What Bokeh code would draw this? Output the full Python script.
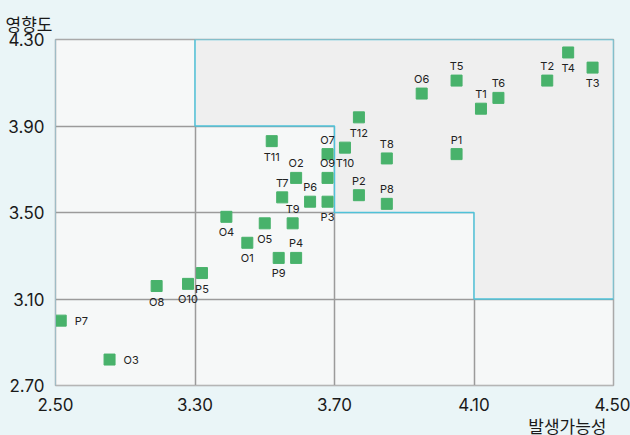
import numpy as np
from bokeh.plotting import figure
from bokeh.models import ColumnDataSource, LabelSet, Title, FixedTicker, CustomJSTickFormatter
from bokeh.embed import file_html
from bokeh.resources import INLINE
from bokeh.core.properties import value

# ---- data ----
names = ["T11", "O7", "T10", "O2", "T7", "P6", "P3", "O9", "T9", "O4", "O5", "O1",
         "P4", "P9", "T12", "T8", "P1", "O6", "T5", "T1", "T6", "T2", "T4", "T3",
         "P2", "P8", "P5", "O10", "O8", "P7", "O3"]
likelihood = [3.52, 3.68, 3.73, 3.59, 3.55, 3.63, 3.68, 3.68, 3.58, 3.39, 3.50, 3.45,
              3.59, 3.54, 3.77, 3.85, 4.05, 3.95, 4.05, 4.12, 4.17, 4.31, 4.37, 4.44,
              3.77, 3.85, 3.32, 3.26, 3.08, 2.53, 2.81]
impact = [3.83, 3.77, 3.80, 3.66, 3.57, 3.55, 3.55, 3.66, 3.45, 3.48, 3.45, 3.36,
          3.29, 3.29, 3.94, 3.75, 3.77, 4.05, 4.11, 3.98, 4.03, 4.11, 4.24, 4.17,
          3.58, 3.54, 3.22, 3.17, 3.16, 3.00, 2.82]
label_side = ["below", "above", "below", "above", "above", "above", "below", "above",
              "above", "below", "below", "below", "above", "below", "below", "above",
              "above", "above", "above", "above", "above", "above", "below", "below",
              "above", "above", "below", "below", "below", "right", "right"]

x_ticks = [2.5, 3.3, 3.7, 4.1, 4.5]
y_ticks = [2.7, 3.1, 3.5, 3.9, 4.3]
x_break = 3.3          # axis segment 2.50-3.30 is drawn at half scale
zone_x = [3.3, 4.5, 4.5, 4.1, 4.1, 3.7, 3.7, 3.3]
zone_y = [4.3, 4.3, 3.1, 3.1, 3.5, 3.5, 3.9, 3.9]
y_title = "영향도"
x_title = "발생가능성"


def xmap(v):
    v = np.asarray(v, dtype=float)
    return np.round(np.where(v < x_break, x_break - (x_break - v) / 2.0, v), 6)


offsets = {"above": (0, 14.5, "center"), "below": (0, -15.5, "center"), "right": (14, -0.5, "left")}

src = ColumnDataSource(dict(
    x=xmap(likelihood), y=impact, name=names,
    dx=[offsets[s][0] for s in label_side],
    dy=[offsets[s][1] for s in label_side],
    align=[offsets[s][2] for s in label_side],
))

W, H = 630, 435
p = figure(width=W, height=H, output_backend="svg", toolbar_location=None,
           x_range=(float(xmap([x_ticks[0]])[0]), x_ticks[-1]),
           y_range=(y_ticks[0], y_ticks[-1]),
           min_border_left=55, min_border_right=17, min_border_top=39, min_border_bottom=50)

p.background_fill_color = "#f6f8f8"
p.border_fill_color = "#eaf5f7"
p.outline_line_color = "#a9a9a9"
p.outline_line_width = 1.5

ticker_x = FixedTicker(ticks=list(xmap(x_ticks)))
ticker_y = FixedTicker(ticks=y_ticks)
p.xaxis.ticker = ticker_x
p.yaxis.ticker = ticker_y
p.xaxis.formatter = CustomJSTickFormatter(
    args=dict(b=x_break),
    code="var v = tick < b ? b - (b - tick) * 2 : tick; return v.toFixed(2);")
p.yaxis.formatter = CustomJSTickFormatter(code="return tick.toFixed(2);")
for ax in (p.xaxis[0], p.yaxis[0]):
    ax.major_tick_line_color = None
    ax.minor_tick_line_color = None
    ax.major_label_text_font = "Inter"
    ax.major_label_text_font_size = "17px"
    ax.major_label_text_color = "#1a1a1a"
p.xaxis.axis_line_color = "#b5b5b5"
p.yaxis.axis_line_color = "#9fbcc6"
p.xaxis.major_label_standoff = 6
p.yaxis.major_label_standoff = 5

p.xgrid.ticker = ticker_x
p.ygrid.ticker = ticker_y
p.xgrid.grid_line_color = "#9b9b9b"
p.ygrid.grid_line_color = "#9b9b9b"
p.xgrid.grid_line_width = 1.5
p.ygrid.grid_line_width = 1.5

# high-risk zone
p.patch(zone_x, zone_y, fill_color="#efefef", line_color=None)
p.patch(zone_x, zone_y, fill_color=None, line_color="#4fc2d9", line_width=1.5)

p.scatter("x", "y", source=src, marker="square", size=11,
          fill_color="#48b26b", line_color="#48b26b")

labels = LabelSet(x="x", y="y", text="name", source=src,
                  x_offset="dx", y_offset="dy", text_align="align",
                  text_baseline="middle", text_font=value("Inter"),
                  text_font_size="11px", text_color="#222222")
p.add_layout(labels)

p.add_layout(Title(text=y_title, align="left", offset=-50, standoff=8,
                   text_font="Noto Sans CJK KR", text_font_size="17px",
                   text_font_style="normal", text_color="#1a1a1a"), "above")
p.add_layout(Title(text=x_title, align="right", offset=7, standoff=-5,
                   text_font="Noto Sans CJK KR", text_font_size="17px",
                   text_font_style="normal", text_color="#1a1a1a"), "below")

html = file_html(p, INLINE)
html = html.replace("</head>",
                    "<style>html,body{margin:0;padding:0;background:#eaf5f7;overflow:hidden;}</style></head>", 1)
open("out.html", "w").write(html)
